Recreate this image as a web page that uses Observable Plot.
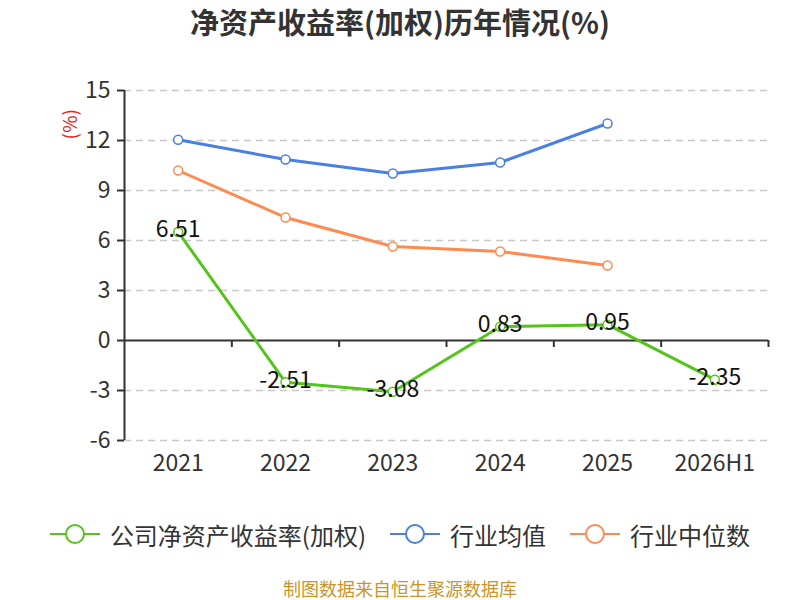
<!DOCTYPE html>
<html>
<head>
<meta charset="utf-8">
<script src="https://cdn.jsdelivr.net/npm/d3@7"></script>
<script src="https://cdn.jsdelivr.net/npm/@observablehq/plot@0.6"></script>
<style>
  body { margin: 0; background: #fff; font-family: "Noto Sans CJK SC", "Noto Sans", sans-serif; }
  #wrap { width: 800px; height: 600px; position: relative; overflow: hidden; }
  #title { height: 50px; line-height: 42px; text-align: center; font-size: 29px; font-weight: bold; color: #333; }
  #legend { margin-top: 34px; height: 40px; display: flex; justify-content: center; align-items: center; gap: 24px; font-size: 24px; color: #333; }
  .item { display: flex; align-items: center; gap: 10px; }
  #caption { margin-top: 25px; text-align: center; font-size: 18px; line-height: 18px; color: #c9952b; }
</style>
</head>
<body>
<div id="wrap">
  <div id="title">净资产收益率(加权)历年情况(%)</div>
  <div id="chart"></div>
  <div id="legend"></div>
  <div id="caption">制图数据来自恒生聚源数据库</div>
</div>
<script>
const categories = ["2021", "2022", "2023", "2024", "2025", "2026H1"];
const companyROE = [6.51, -2.51, -3.08, 0.83, 0.95, -2.35];
const industryMean = [12.05, 10.86, 10.02, 10.68, 13.02, null];
const industryMedian = [10.2, 7.38, 5.64, 5.34, 4.5, null];
const yTicks = [-6, -3, 0, 3, 6, 9, 12, 15];
const seriesNames = ["公司净资产收益率(加权)", "行业均值", "行业中位数"];
const seriesColors = ["#52c41a", "#4a7fe3", "#ff8a50"];

const toRows = (vals, s) => vals.map((v, i) => ({x: i + 0.5, y: v, s})).filter(d => d.y != null);
const rowsCompany = toRows(companyROE, 0);
const rowsMean = toRows(industryMean, 1);
const rowsMedian = toRows(industryMedian, 2);
const boundaries = categories.map((c, i) => i + 1);
const centers = categories.map((c, i) => i + 0.5);

const font = "'Noto Sans CJK SC', 'Noto Sans', sans-serif";

const seriesMarks = [rowsMean, rowsMedian, rowsCompany].flatMap(rows => {
  const color = seriesColors[rows[0].s];
  return [
    Plot.line(rows, {x: "x", y: "y", stroke: color, strokeWidth: 3}),
    Plot.dot(rows, {x: "x", y: "y", r: 4.5, fill: "white", stroke: color, strokeWidth: 1.5})
  ];
});

const chart = Plot.plot({
  width: 800,
  height: 430,
  marginTop: 40,
  marginBottom: 40,
  marginLeft: 124,
  marginRight: 32,
  style: {fontFamily: font, background: "white"},
  x: {type: "linear", domain: [0, categories.length], axis: null},
  y: {domain: [-6, 15], axis: null},
  marks: [
    Plot.gridY(yTicks.filter(t => t !== 0), {stroke: "#c8c8c8", strokeOpacity: 1, strokeWidth: 1.5, strokeDasharray: "7,5"}),
    Plot.ruleY([0], {stroke: "#333", strokeWidth: 2}),
    Plot.ruleX(boundaries, {y1: 0, y2: 0, insetBottom: -7, stroke: "#333", strokeWidth: 2}),
    Plot.ruleX([0], {stroke: "#333", strokeWidth: 2}),
    Plot.axisY({ticks: yTicks, tickFormat: d => String(d), tickSize: 7, tickPadding: 7, fontSize: 23, color: "#333", stroke: "#333", strokeWidth: 2, label: null}),
    Plot.axisX({ticks: centers, tickFormat: v => categories[Math.floor(v)], tickSize: 0, tickPadding: 14, fontSize: 23, color: "#333", label: null}),
    Plot.text(["(%)"], {frameAnchor: "top-left", dx: -61, dy: 49, rotate: -90, fill: "#e8201a", fontSize: 19}),
    ...seriesMarks,
    Plot.text(rowsCompany, {x: "x", y: "y", text: d => d.y.toFixed(2), dy: -2, fontSize: 23, fill: "#111"})
  ]
});
document.getElementById("chart").appendChild(chart);

const legend = document.getElementById("legend");
seriesNames.forEach((name, i) => {
  const item = document.createElement("div");
  item.className = "item";
  item.innerHTML = `<svg width="50" height="22"><line x1="0" x2="50" y1="11" y2="11" stroke="${seriesColors[i]}" stroke-width="2"/><circle cx="25" cy="11" r="9" fill="white" stroke="${seriesColors[i]}" stroke-width="2"/></svg><span>${name}</span>`;
  legend.appendChild(item);
});
</script>
</body>
</html>
